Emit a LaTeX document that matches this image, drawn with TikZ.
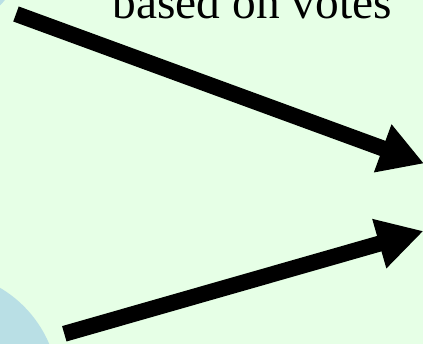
\documentclass[tikz,border=0pt]{standalone}
\usepackage{fontspec}
\setmainfont{Liberation Serif}
\usetikzlibrary{arrows.meta}
\definecolor{bgc}{HTML}{E6FFE6}
\definecolor{bluec}{HTML}{B9DFE5}
\begin{document}
\begin{tikzpicture}[x=1pt,y=-1pt,
  bigarrow/.style={line width=16pt, draw=black},
  lbl/.style={inner sep=0pt, font=\fontsize{47.4}{50}\selectfont}]
\useasboundingbox (0,0) rectangle (423,344);
\fill[bgc] (0,0) rectangle (423,344);
\begin{scope}
\clip (0,0) rectangle (423,344);
\fill[bluec] (-60,390) circle[radius=118.5];
\fill[bluec] (-50,-45) circle[radius=71];
\end{scope}
\node[lbl, anchor=base west] (txt) at (112.5,18.5) {based on votes};
\coordinate (a1s) at (16,14);
\coordinate (a1e) at (424,163.5);
\coordinate (a2s) at (64.3,333.8);
\coordinate (a2e) at (423.5,231);
\draw[bigarrow, -{Triangle[length=44pt,width=48pt]}] (a1s) -- (a1e);
\draw[bigarrow, -{Triangle[length=46pt,width=48pt]}] (a2s) -- (a2e);
\end{tikzpicture}
\end{document}
